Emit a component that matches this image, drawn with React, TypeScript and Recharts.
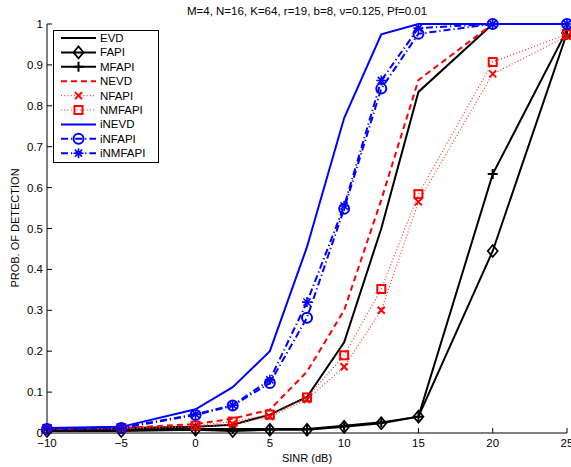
import { LineChart, Line, XAxis, YAxis } from "recharts";

// SINR axis (dB)
const sinr = [-10, -5, 0, 2.5, 5, 7.5, 10, 12.5, 15, 20, 25];

// probability of detection per method
const evd = [0.01, 0.012, 0.015, 0.02, 0.045, 0.088, 0.222, 0.5, 0.834, 1, 1];
const fapi = [0.005, 0.005, 0.008, 0.005, 0.008, 0.008, 0.015, 0.024, 0.04, 0.445, 0.978];
const mfapi = [0.008, 0.01, 0.01, 0.01, 0.01, 0.01, 0.018, 0.026, 0.04, 0.633, 0.985];
const nevd = [0.01, 0.012, 0.022, 0.035, 0.057, 0.15, 0.3, 0.57, 0.863, 1, 1];
const nfapi = [0.01, 0.01, 0.015, 0.022, 0.04, 0.082, 0.162, 0.3, 0.565, 0.878, 0.97];
const nmfapi = [0.01, 0.012, 0.018, 0.028, 0.045, 0.087, 0.19, 0.352, 0.584, 0.907, 0.975];
const inevd = [0.012, 0.015, 0.058, 0.112, 0.2, 0.455, 0.77, 0.975, 1, 1, 1];
const infapi = [0.01, 0.012, 0.044, 0.067, 0.122, 0.282, 0.548, 0.842, 0.976, 1, 1];
const inmfapi = [0.012, 0.013, 0.046, 0.068, 0.13, 0.32, 0.555, 0.862, 0.99, 1, 1];

const xTicks = [-10, -5, 0, 5, 10, 15, 20, 25];
const yTicks = [0, 0.1, 0.2, 0.3, 0.4, 0.5, 0.6, 0.7, 0.8, 0.9, 1];

const title = "M=4, N=16, K=64, r=19, b=8, \u03bd=0.125, Pf=0.01";
const xLabel = "SINR (dB)";
const yLabel = "PROB. OF DETECTION";

const FONT = "'Liberation Sans', Arial, Helvetica, sans-serif";

type Marker = "none" | "diamond" | "plus" | "x" | "square" | "circle" | "star";

interface Series {
  key: string;
  name: string;
  values: number[];
  color: string;
  width: number;
  dash?: string;
  marker: Marker;
}

const series: Series[] = [
  { key: "evd", name: "EVD", values: evd, color: "#000", width: 2, marker: "none" },
  { key: "fapi", name: "FAPI", values: fapi, color: "#000", width: 2, marker: "diamond" },
  { key: "mfapi", name: "MFAPI", values: mfapi, color: "#000", width: 2, marker: "plus" },
  { key: "nevd", name: "NEVD", values: nevd, color: "#f00", width: 2, dash: "6 4", marker: "none" },
  { key: "nfapi", name: "NFAPI", values: nfapi, color: "#f33", width: 1.2, dash: "1 2.2", marker: "x" },
  { key: "nmfapi", name: "NMFAPI", values: nmfapi, color: "#f33", width: 1.2, dash: "1 2.2", marker: "square" },
  { key: "inevd", name: "iNEVD", values: inevd, color: "#00f", width: 2, marker: "none" },
  { key: "infapi", name: "iNFAPI", values: infapi, color: "#00f", width: 2, dash: "7 3 1.2 3", marker: "circle" },
  { key: "inmfapi", name: "iNMFAPI", values: inmfapi, color: "#00f", width: 2, dash: "7 3 1.2 3", marker: "star" },
];

const data = sinr.map((x, i) => {
  const row: Record<string, number> = { x };
  series.forEach((s) => {
    row[s.key] = s.values[i];
  });
  return row;
});

function drawMarker(kind: Marker, cx: number, cy: number, color: string) {
  // markers use the pure colour even if the line is lighter
  const c = color === "#f33" ? "#f00" : color;
  switch (kind) {
    case "diamond":
      return (
        <path
          d={`M${cx},${cy - 6}L${cx + 5},${cy}L${cx},${cy + 6}L${cx - 5},${cy}Z`}
          fill="none"
          stroke={c}
          strokeWidth={1.7}
        />
      );
    case "plus":
      return (
        <path
          d={`M${cx - 5},${cy}H${cx + 5}M${cx},${cy - 5}V${cy + 5}`}
          stroke={c}
          strokeWidth={2}
        />
      );
    case "x":
      return (
        <path
          d={`M${cx - 3.5},${cy - 3.5}L${cx + 3.5},${cy + 3.5}M${cx - 3.5},${cy + 3.5}L${cx + 3.5},${cy - 3.5}`}
          stroke={c}
          strokeWidth={2}
        />
      );
    case "square":
      return (
        <rect x={cx - 4} y={cy - 4} width={8} height={8} fill="none" stroke={c} strokeWidth={2} />
      );
    case "circle":
      return <circle cx={cx} cy={cy} r={5} fill="none" stroke={c} strokeWidth={2} />;
    case "star":
      return (
        <path
          d={`M${cx - 5},${cy}H${cx + 5}M${cx},${cy - 5}V${cy + 5}M${cx - 3.6},${cy - 3.6}L${cx + 3.6},${cy + 3.6}M${cx - 3.6},${cy + 3.6}L${cx + 3.6},${cy - 3.6}`}
          stroke={c}
          strokeWidth={1.6}
        />
      );
    default:
      return null;
  }
}

const fmt = (v: number) => (v < 0 ? "\u2212" + Math.abs(v) : String(v));

const BottomTick = (props: any) => {
  const { x, y, payload } = props;
  return (
    <g>
      <line x1={x} x2={x} y1={y - 3} y2={y - 8} stroke="#000" />
      <text x={x} y={y + 11} textAnchor="middle" fontSize={11.5} fontFamily={FONT} fill="#000">
        {fmt(payload.value)}
      </text>
    </g>
  );
};

const TopTick = (props: any) => {
  const { x, y } = props;
  return <line x1={x} x2={x} y1={y} y2={y + 5} stroke="#000" />;
};

const LeftTick = (props: any) => {
  const { x, y, payload } = props;
  return (
    <g>
      <line x1={x + 4} x2={x + 9} y1={y} y2={y} stroke="#000" />
      <text x={x} y={y + 4} textAnchor="end" fontSize={11.5} fontFamily={FONT} fill="#000">
        {String(payload.value)}
      </text>
    </g>
  );
};

const RightTick = (props: any) => {
  const { x, y } = props;
  return <line x1={x} x2={x - 5} y1={y} y2={y} stroke="#000" />;
};

const Legend = () => {
  const left = 53;
  const top = 30;
  const rowH = 14.4;
  return (
    <g>
      <rect x={left + 0.5} y={top + 0.5} width={105} height={132} fill="#fff" stroke="#000" />
      {series.map((s, i) => {
        const cy = top + 8 + i * rowH;
        return (
          <g key={s.key}>
            <line
              x1={61}
              x2={96}
              y1={cy}
              y2={cy}
              stroke={s.color}
              strokeWidth={s.width}
              strokeDasharray={s.dash}
            />
            {drawMarker(s.marker, 78.5, cy, s.color)}
            <text x={100} y={cy + 4} fontSize={11.5} fontFamily={FONT} fill="#000">
              {s.name}
            </text>
          </g>
        );
      })}
    </g>
  );
};

export default function App() {
  return (
    <div style={{ position: "absolute", left: 0, top: 0, width: 571, height: 467, background: "#fff" }}>
      <LineChart
        width={571}
        height={467}
        data={data}
        margin={{ top: 24, right: 4, left: 0, bottom: 0 }}
      >
        <XAxis
          dataKey="x"
          type="number"
          domain={[-10, 25]}
          ticks={xTicks}
          interval={0}
          height={34}
          tickSize={0}
          tickMargin={3}
          tickLine={false}
          axisLine={{ stroke: "#000" }}
          tick={(p: any) => <BottomTick {...p} />}
        />
        <XAxis
          xAxisId="top"
          orientation="top"
          dataKey="x"
          type="number"
          domain={[-10, 25]}
          ticks={xTicks}
          interval={0}
          height={0}
          tickSize={0}
          tickMargin={0}
          tickLine={false}
          axisLine={{ stroke: "#000" }}
          tick={(p: any) => <TopTick {...p} />}
        />
        <YAxis
          type="number"
          domain={[0, 1]}
          ticks={yTicks}
          interval={0}
          width={47}
          tickSize={0}
          tickMargin={4}
          tickLine={false}
          axisLine={{ stroke: "#000" }}
          tick={(p: any) => <LeftTick {...p} />}
        />
        <YAxis
          yAxisId="right"
          orientation="right"
          type="number"
          domain={[0, 1]}
          ticks={yTicks}
          interval={0}
          width={0}
          tickSize={0}
          tickMargin={0}
          tickLine={false}
          axisLine={{ stroke: "#000" }}
          tick={(p: any) => <RightTick {...p} />}
        />
        {series.map((s) => (
          <Line
            key={s.key}
            dataKey={s.key}
            name={s.name}
            type="linear"
            stroke={s.color}
            strokeWidth={s.width}
            strokeDasharray={s.dash}
            isAnimationActive={false}
            activeDot={false}
            dot={
              s.marker === "none"
                ? false
                : (p: any) => (
                    <g key={`${s.key}-${p.index}`}>{drawMarker(s.marker, p.cx, p.cy, s.color)}</g>
                  )
            }
          />
        ))}
      </LineChart>
      <svg
        width={571}
        height={467}
        style={{ position: "absolute", left: 0, top: 0, pointerEvents: "none" }}
      >
        <text x={307} y={15} textAnchor="middle" fontSize={11.5} fontFamily={FONT} fill="#000">
          {title}
        </text>
        <text x={307} y={462} textAnchor="middle" fontSize={11} fontFamily={FONT} fill="#000">
          {xLabel}
        </text>
        <text
          x={19}
          y={228}
          textAnchor="middle"
          fontSize={11}
          fontFamily={FONT}
          fill="#000"
          transform="rotate(-90 19 228)"
        >
          {yLabel}
        </text>
        <Legend />
      </svg>
    </div>
  );
}
